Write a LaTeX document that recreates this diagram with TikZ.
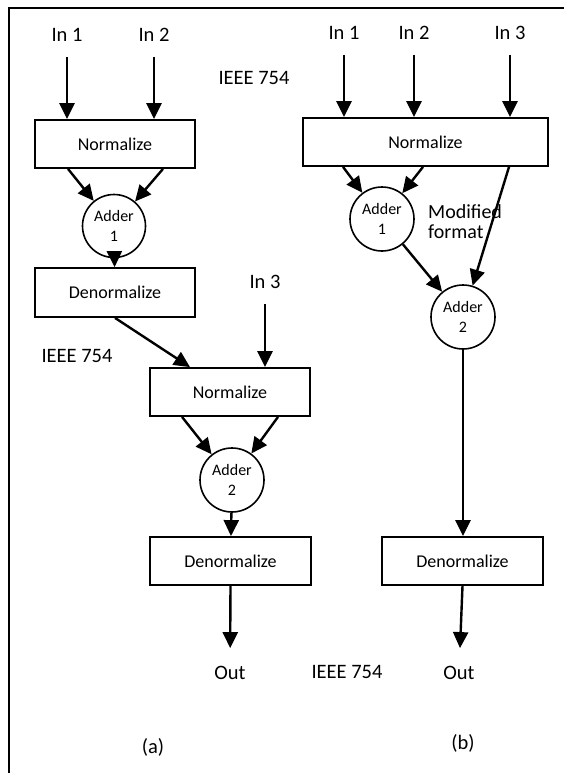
\documentclass[tikz,border=0pt]{standalone}
\usepackage{fontspec}
\setmainfont{Carlito}
\usetikzlibrary{arrows.meta}
\tikzset{
	box/.style={draw, line width=1.8pt, minimum height=48pt, inner sep=0pt, font=\fontsize{18}{22}\selectfont},
	adder/.style={draw, circle, line width=1.6pt, minimum size=63pt, inner sep=0pt, align=center, font=\fontsize{16}{20}\selectfont},
	lbl/.style={inner sep=0pt, font=\fontsize{20.5}{24}\selectfont},
	flow/.style={line width=2.4pt, -{Triangle[length=16pt,width=15pt]}}
}

\begin{document}
\begin{tikzpicture}[x=1pt, y=-1pt]
				\useasboundingbox (0,0) rectangle (564,773);
				\draw[line width=2.4pt] (9,773) -- (9,8) -- (564,8);
				
				\node[lbl] (in1L) at (67,35) {In 1};
				\node[lbl] (in2L) at (154,35) {In 2};
				\node[lbl] (ieeeTop) at (254,78) {IEEE 754};
				\node[box, minimum width=160pt] (normA) at (115,144) {Normalize};
				\node[adder] (addA) at (114,226) {Adder\\1};
				\node[box, minimum width=160pt, minimum height=49pt] (denA) at (115,292.5) {Denormalize};
				
				\draw[flow, shorten <=15pt] (in1L) -- (in1L |- normA.north);
				\draw[flow, shorten <=15pt] (in2L) -- (in2L |- normA.north);
				\draw[flow] ([xshift=-47pt]normA.south) -- (addA);
				\draw[flow] ([xshift=48pt]normA.south) -- (addA);
				\draw[flow] (addA) -- (denA);
				
				\node[lbl] (ieeeMid) at (77,356) {IEEE 754};
				\node[lbl] (in3L) at (265,282) {In 3};
				\node[box, minimum width=160pt] (normB) at (230,392) {Normalize};
				\node[adder, minimum size=64pt] (addB) at (232,480) {Adder\\2};
				\node[box, minimum width=161pt] (denB) at (230.5,561) {Denormalize};
				\node[lbl] (outL) at (230,673) {Out};
				
				\draw[flow] (denA.south) -- ([xshift=-40pt]normB.north);
				\draw[flow, shorten <=15pt] (in3L) -- (in3L |- normB.north);
				\draw[flow] ([xshift=-48pt]normB.south) -- (addB);
				\draw[flow] ([xshift=48pt]normB.south) -- (addB);
				\draw[flow] (addB) -- (denB);
				\draw[flow, shorten >=18pt] (denB.south) -- (outL);
				
				\node[lbl] (ieeeBot) at (347,672) {IEEE 754};
				\node[lbl] (capA) at (153,747) {(a)};
				
				\node[lbl] (in1R) at (344,33) {In 1};
				\node[lbl] (in2R) at (414,33) {In 2};
				\node[lbl] (in3R) at (510,33) {In 3};
				\node[box, minimum width=245pt] (normR) at (425.5,142) {Normalize};
				\node[adder, minimum size=64pt] (addC) at (382,219) {Adder\\1};
				\node[lbl, align=left, anchor=west, font=\fontsize{20}{20}\selectfont] (modif) at (428,222) {Modified\\format};
				\node[adder, minimum size=64pt] (addD) at (463,317) {Adder\\2};
				\node[box, minimum width=161pt] (denR) at (462.5,561) {Denormalize};
				\node[lbl] (outR) at (459,673) {Out};
				\node[lbl] (capB) at (463,743) {(b)};
				
				\draw[flow, shorten <=15pt] (in1R) -- (in1R |- normR.north);
				\draw[flow, shorten <=15pt] (in2R) -- (in2R |- normR.north);
				\draw[flow, shorten <=15pt] (in3R) -- (in3R |- normR.north);
				\draw[flow] ([xshift=-82.5pt]normR.south) -- (addC);
				\draw[flow] ([xshift=-2.5pt]normR.south) -- (addC);
				\draw[flow] ([xshift=83.5pt]normR.south) -- (addD);
				\draw[flow] (addC) -- (addD);
				\draw[flow] (addD) -- (addD |- denR.north);
				\draw[flow, shorten >=18pt] (denR.south) -- (outR);
			\end{tikzpicture}
\end{document}
